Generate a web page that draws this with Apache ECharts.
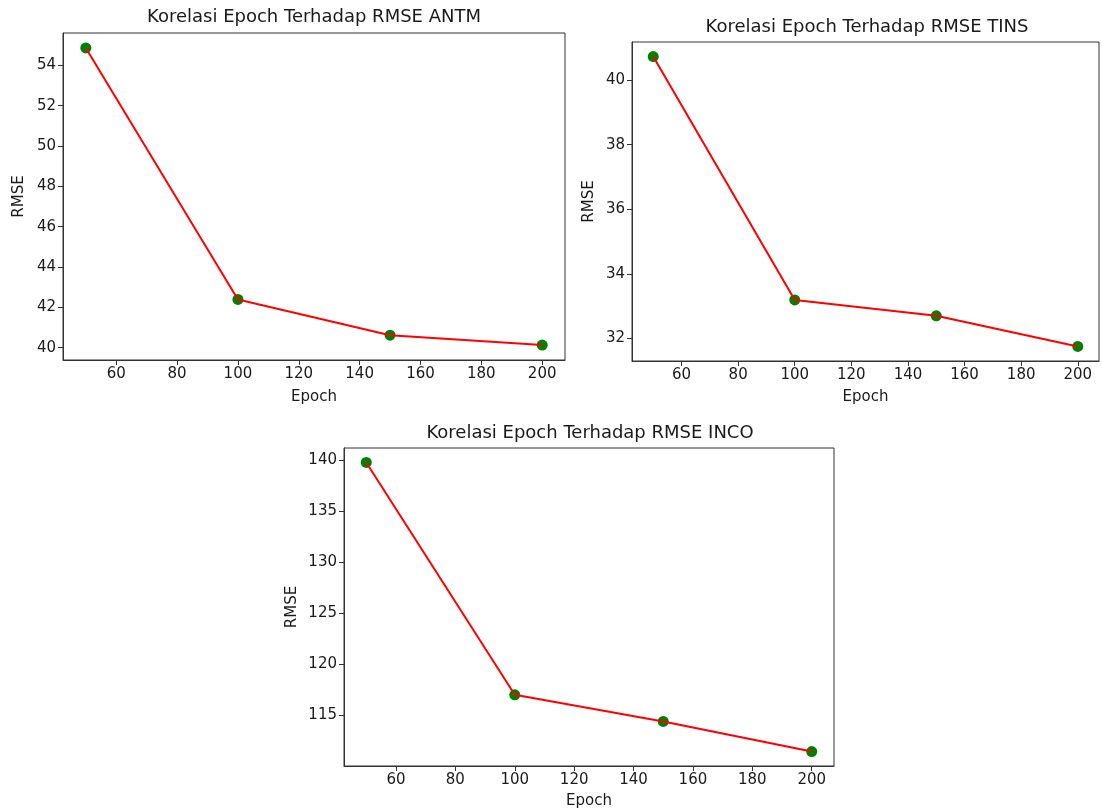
<!DOCTYPE html>
<html>
<head>
<meta charset="utf-8">
<script src="https://cdn.jsdelivr.net/npm/echarts@6/dist/echarts.min.js"></script>
<style>
  body { margin: 0; background: #fff; }
  #chart { width: 1102px; height: 810px; }
</style>
</head>
<body>
<div id="chart"></div>
<script>
// data
var epochs = [50, 100, 150, 200];
var rmseAntm = [54.86, 42.39, 40.62, 40.13];
var rmseTins = [40.73, 33.19, 32.70, 31.75];
var rmseInco = [139.74, 116.96, 114.35, 111.40];

var epochTicks = [60, 80, 100, 120, 140, 160, 180, 200];
var antmTicks = [40, 42, 44, 46, 48, 50, 52, 54];
var tinsTicks = [32, 34, 36, 38, 40];
var incoTicks = [115, 120, 125, 130, 135, 140];

var titles = [
    'Korelasi Epoch Terhadap RMSE ANTM',
    'Korelasi Epoch Terhadap RMSE TINS',
    'Korelasi Epoch Terhadap RMSE INCO'
];

var font = 'DejaVu Sans';
var textColor = '#1a1a1a';
var spine = '#333';

function pairs(ys) {
    return epochs.map(function (x, i) { return [x, ys[i]]; });
}

function xAxisFor(idx, gap) {
    return {
        type: 'value', gridIndex: idx, min: 42.5, max: 207.5,
        name: 'Epoch', nameLocation: 'middle', nameGap: gap,
        nameTextStyle: { fontFamily: font, fontSize: 15, color: textColor },
        axisLine: { show: true, lineStyle: { color: spine, width: 1 } },
        axisTick: { show: true, inside: false, length: 5, customValues: epochTicks, lineStyle: { color: spine } },
        axisLabel: { customValues: epochTicks, fontFamily: font, fontSize: 15, color: textColor, margin: 7 },
        splitLine: { show: false }
    };
}

function yAxisFor(idx, min, max, ticks, gap) {
    return {
        type: 'value', gridIndex: idx, min: min, max: max,
        name: 'RMSE', nameLocation: 'middle', nameGap: gap, nameRotate: 90,
        nameTextStyle: { fontFamily: font, fontSize: 15, color: textColor },
        axisLine: { show: true, lineStyle: { color: spine, width: 1 } },
        axisTick: { show: true, inside: false, length: 5, customValues: ticks, lineStyle: { color: spine } },
        axisLabel: { customValues: ticks, fontFamily: font, fontSize: 15, color: textColor, margin: 7 },
        splitLine: { show: false }
    };
}

function seriesFor(idx, ys) {
    return [
        {
            type: 'scatter', xAxisIndex: idx, yAxisIndex: idx,
            data: pairs(ys), symbolSize: 11,
            itemStyle: { color: '#008000', opacity: 1 }, z: 2
        },
        {
            type: 'line', xAxisIndex: idx, yAxisIndex: idx,
            data: pairs(ys), showSymbol: false,
            lineStyle: { color: '#ff0000', width: 2 }, z: 3
        }
    ];
}

var gridStyle = { show: true, borderColor: spine, borderWidth: 1, backgroundColor: 'transparent', containLabel: false };
var titleText = { fontFamily: font, fontSize: 18, fontWeight: 'normal', color: textColor };

var option = {
    animation: false,
    backgroundColor: '#fff',
    title: [
        { text: titles[0], left: 314, top: 8, textAlign: 'center', padding: 0, textStyle: titleText },
        { text: titles[1], left: 867, top: 18, textAlign: 'center', padding: 0, textStyle: titleText },
        { text: titles[2], left: 590, top: 424, textAlign: 'center', padding: 0, textStyle: titleText }
    ],
    grid: [
        Object.assign({ left: 63, top: 33, width: 502, height: 327 }, gridStyle),
        Object.assign({ left: 632, top: 42, width: 467, height: 319 }, gridStyle),
        Object.assign({ left: 344, top: 448, width: 490, height: 318 }, gridStyle)
    ],
    xAxis: [xAxisFor(0, 30), xAxisFor(1, 29), xAxisFor(2, 28)],
    yAxis: [
        yAxisFor(0, 39.39, 55.60, antmTicks, 36),
        yAxisFor(1, 31.30, 41.18, tinsTicks, 35),
        yAxisFor(2, 109.98, 141.16, incoTicks, 44)
    ],
    series: [].concat(seriesFor(0, rmseAntm), seriesFor(1, rmseTins), seriesFor(2, rmseInco))
};

var myChart = echarts.init(document.getElementById('chart'));
myChart.setOption(option);
</script>
</body>
</html>
